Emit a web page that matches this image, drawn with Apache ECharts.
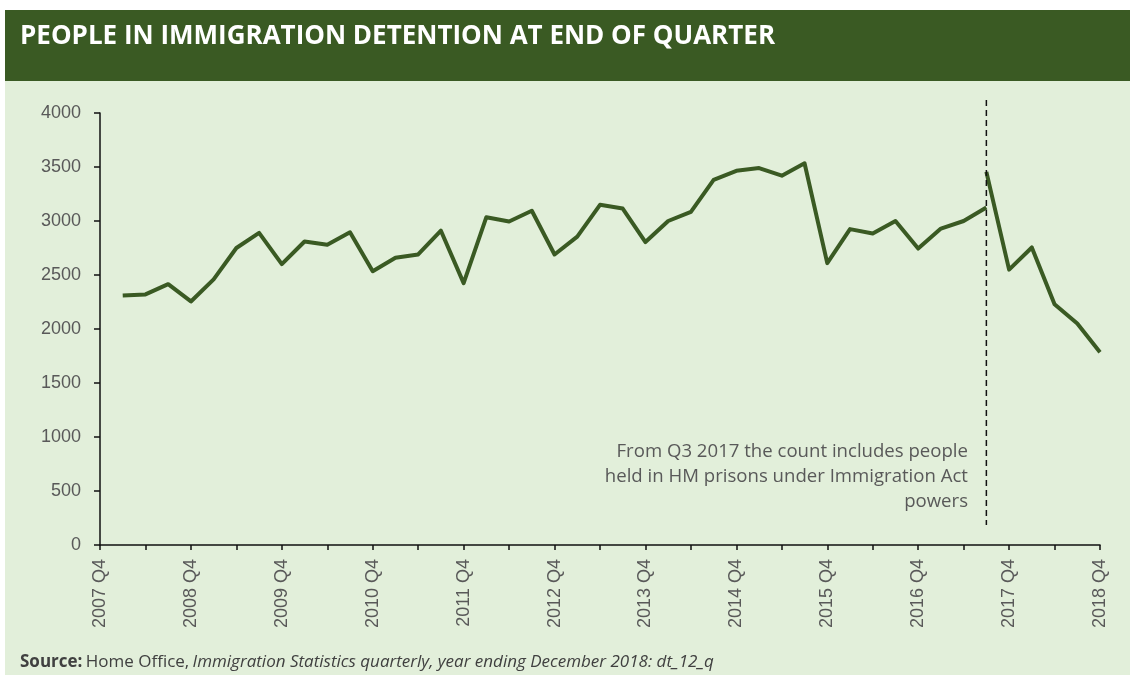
<!DOCTYPE html>
<html>
<head>
<meta charset="utf-8">
<script src="https://cdn.jsdelivr.net/npm/echarts@6/dist/echarts.min.js"></script>
<style>
  html, body { margin: 0; padding: 0; background: #fff; }
  #chart { width: 1130px; height: 675px; }
</style>
</head>
<body>
<div id="chart"></div>
<script>
// quarters on the x axis
var quarters = [
    '2007 Q4', '2008 Q1', '2008 Q2', '2008 Q3', '2008 Q4', '2009 Q1', '2009 Q2', '2009 Q3', '2009 Q4',
    '2010 Q1', '2010 Q2', '2010 Q3', '2010 Q4', '2011 Q1', '2011 Q2', '2011 Q3', '2011 Q4',
    '2012 Q1', '2012 Q2', '2012 Q3', '2012 Q4', '2013 Q1', '2013 Q2', '2013 Q3', '2013 Q4',
    '2014 Q1', '2014 Q2', '2014 Q3', '2014 Q4', '2015 Q1', '2015 Q2', '2015 Q3', '2015 Q4',
    '2016 Q1', '2016 Q2', '2016 Q3', '2016 Q4', '2017 Q1', '2017 Q2', '2017 Q3', '2017 Q4',
    '2018 Q1', '2018 Q2', '2018 Q3', '2018 Q4'
];
// 2008 Q1 .. 2017 Q3, old count
var oldCount = [
    2310, 2320, 2415, 2255, 2460, 2750, 2890, 2600, 2810, 2780,
    2895, 2535, 2660, 2690, 2910, 2425, 3035, 2995, 3095, 2690,
    2855, 3150, 3115, 2805, 3000, 3085, 3380, 3465, 3490, 3420,
    3535, 2610, 2925, 2885, 3000, 2745, 2930, 3000, 3125
];
// 2017 Q3 .. 2018 Q4, includes HM prisons
var newCount = [3455, 2550, 2755, 2230, 2050, 1785];
var yTicks = { min: 0, max: 4000, step: 500 };
var breakQuarter = '2017 Q3';

var green = '#3a5a23';
var font = '"Open Sans", "Noto Sans", sans-serif';
var axisFont = '"Liberation Sans", Arial, sans-serif';

function pad(vals, start) {
    var out = [];
    for (var i = 0; i < quarters.length; i++) {
        var j = i - start;
        out.push(j >= 0 && j < vals.length ? vals[j] : '-');
    }
    return out;
}

var chart = echarts.init(document.getElementById('chart'));

var option = {
    backgroundColor: '#fff',
    animation: false,
    textStyle: { fontFamily: font },
    grid: { left: 100, right: 30, top: 113, bottom: 130 },
    xAxis: {
        type: 'category',
        data: quarters,
        boundaryGap: false,
        axisLine: { lineStyle: { color: '#111', width: 1.5 } },
        axisTick: { interval: 1, length: 5, lineStyle: { color: '#111', width: 1.5 } },
        axisLabel: {
            interval: 3, rotate: 90, margin: 14,
            color: '#595959', fontSize: 18, fontFamily: axisFont
        }
    },
    yAxis: {
        type: 'value',
        min: yTicks.min, max: yTicks.max, interval: yTicks.step,
        splitLine: { show: false },
        axisLine: { show: true, lineStyle: { color: '#111', width: 1.5 } },
        axisTick: { show: true, length: 6, lineStyle: { color: '#111', width: 1.5 } },
        axisLabel: {
            margin: 19, color: '#595959', fontSize: 18, fontFamily: axisFont,
            formatter: function (v) { return String(v); }
        }
    },
    series: [{
        type: 'line',
        data: pad(oldCount, 1),
        showSymbol: false,
        symbol: 'none',
        lineStyle: { color: green, width: 4, join: 'round' },
        z: 3
    }, {
        type: 'line',
        data: pad(newCount, quarters.indexOf(breakQuarter)),
        showSymbol: false,
        symbol: 'none',
        lineStyle: { color: green, width: 4, join: 'round' },
        z: 3
    }]
};
chart.setOption(option);

var bx = chart.convertToPixel({ xAxisIndex: 0 }, breakQuarter);

chart.setOption({
    graphic: [{
        type: 'rect', z: -10, silent: true,
        shape: { x: 5, y: 10, width: 1125, height: 665 },
        style: { fill: '#e2efda' }
    }, {
        type: 'rect', z: -9, silent: true,
        shape: { x: 5, y: 10, width: 1125, height: 71 },
        style: { fill: green }
    }, {
        type: 'text', x: 20, y: 37,
        style: {
            text: 'PEOPLE IN IMMIGRATION DETENTION AT END OF QUARTER',
            fill: '#fff', font: 'bold 26px ' + font, verticalAlign: 'middle'
        }
    }, {
        type: 'line', z: 5, silent: true,
        shape: { x1: bx, y1: 100, x2: bx, y2: 525 },
        style: { stroke: '#111', lineWidth: 1.5, lineDash: [6, 4] }
    }, {
        type: 'text', x: 968, y: 477,
        style: {
            text: 'From Q3 2017 the count includes people\nheld in HM prisons under Immigration Act\npowers',
            fill: '#595959', font: '18.6px ' + font,
            align: 'right', verticalAlign: 'middle', lineHeight: 25
        }
    }, {
        type: 'text', x: 20, y: 662,
        style: {
            text: '{b|Source:} {n|Home Office,} {i|Immigration Statistics quarterly, year ending December 2018: dt_12_q}',
            verticalAlign: 'middle',
            rich: {
                b: { fontWeight: 'bold', fontSize: 17, fontFamily: font, fill: '#404040' },
                n: { fontSize: 17, fontFamily: font, fill: '#404040' },
                i: { fontStyle: 'italic', fontSize: 17, fontFamily: font, fill: '#404040' }
            }
        }
    }]
});
</script>
</body>
</html>
